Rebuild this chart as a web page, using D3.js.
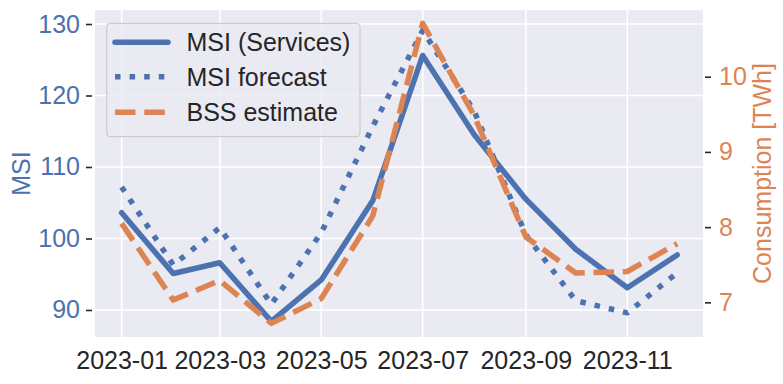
<!DOCTYPE html>
<html><head><meta charset="utf-8">
<script src="https://cdn.jsdelivr.net/npm/d3@7"></script>
<style>html,body{margin:0;padding:0;background:#fff;}svg{display:block;font-family:"Liberation Sans",Arial,sans-serif;}</style>
</head><body>
<svg id="c" width="783" height="384"></svg>
<script>
const months = ["2023-01","2023-02","2023-03","2023-04","2023-05","2023-06","2023-07","2023-08","2023-09","2023-10","2023-11","2023-12"];
const msiServices = [103.6, 95.1, 96.6, 88.4, 94.2, 105.3, 125.6, 114.5, 105.5, 98.5, 93.1, 97.7];
const msiForecast = [107.2, 96.3, 101.5, 90.8, 100.8, 115.7, 129.1, 117.8, 100.5, 91.3, 89.6, 95.2];
const bssEstimate = [8.05, 7.03, 7.29, 6.72, 7.05, 8.15, 10.71, 9.48, 7.87, 7.39, 7.41, 7.78];
const leftTicks = [90, 100, 110, 120, 130];
const rightTicks = [7, 8, 9, 10];
const seriesNames = ["MSI (Services)", "MSI forecast", "BSS estimate"];

const BLUE = "#4C72B0", ORANGE = "#DD8452", TXT = "#262626", BG = "#EAEAF2";
const FS = 25;
const FF = "Liberation Sans, Arial, sans-serif";
const svg = d3.select("#c");
const L = 95, R = 703, T = 10, B = 337;
const parse = s => { const [y,m] = s.split("-").map(Number); return new Date(Date.UTC(y, m-1, 1)); };
const dates = months.map(parse);

const x = d3.scaleUtc().domain([new Date(Date.UTC(2022,11,16)), new Date(Date.UTC(2023,11,16,12))]).range([L, R]);
const yL = d3.scaleLinear().domain([86.22, 131.96]).range([B, T]);
const yR = d3.scaleLinear().domain([6.539, 10.887]).range([B, T]);

svg.append("rect").attr("x", L).attr("y", T).attr("width", R-L).attr("height", B-T).attr("fill", BG);

const xTicks = dates.filter((d,i) => i % 2 === 0);
const g = svg.append("g");
g.selectAll(".vg").data(xTicks).join("line")
  .attr("x1", d => x(d)).attr("x2", d => x(d)).attr("y1", T).attr("y2", B)
  .attr("stroke", "#fff").attr("stroke-width", 1.6);
g.selectAll(".hg").data(leftTicks).join("line")
  .attr("x1", L).attr("x2", R).attr("y1", d => yL(d)).attr("y2", d => yL(d))
  .attr("stroke", "#fff").attr("stroke-width", 1.6);

// x axis
const xa = svg.append("g").attr("transform", `translate(0,${B})`)
  .call(d3.axisBottom(x).tickValues(xTicks).tickFormat(d3.utcFormat("%Y-%m")).tickSize(0).tickPadding(14));
xa.select(".domain").remove();
xa.attr("font-size", FS).attr("font-family", FF);
xa.selectAll("text").attr("fill", TXT);

// left axis
const ya = svg.append("g").attr("transform", `translate(${L-3},0)`)
  .call(d3.axisLeft(yL).tickValues(leftTicks).tickSize(6).tickPadding(6));
ya.select(".domain").remove();
ya.attr("font-size", FS).attr("font-family", FF);
ya.selectAll("line").attr("stroke", TXT).attr("stroke-width", 1.6);
ya.selectAll("text").attr("fill", BLUE);

// right axis
const yra = svg.append("g").attr("transform", `translate(${R+2},0)`)
  .call(d3.axisRight(yR).tickValues(rightTicks).tickFormat(d3.format("d")).tickSize(6).tickPadding(8));
yra.select(".domain").remove();
yra.attr("font-size", FS).attr("font-family", FF);
yra.selectAll("line").attr("stroke", TXT).attr("stroke-width", 1.6);
yra.selectAll("text").attr("fill", ORANGE);

svg.append("text").attr("transform", `translate(30,${(T+B)/2}) rotate(-90)`)
  .attr("text-anchor", "middle").attr("font-size", FS).attr("fill", BLUE).text("MSI");
svg.append("text").attr("transform", `translate(771,${(T+B)/2}) rotate(-90)`)
  .attr("text-anchor", "middle").attr("font-size", FS).attr("fill", ORANGE).text("Consumption [TWh]");

const lines = svg.append("g");
const lw = 5.5;
const lineL = d3.line().x((d,i) => x(dates[i])).y(d => yL(d));
const lineR = d3.line().x((d,i) => x(dates[i])).y(d => yR(d));
lines.append("path").attr("d", lineL(msiServices)).attr("fill","none").attr("stroke",BLUE)
  .attr("stroke-width",lw).attr("stroke-linecap","round").attr("stroke-linejoin","round");
lines.append("path").attr("d", lineL(msiForecast)).attr("fill","none").attr("stroke",BLUE)
  .attr("stroke-width",lw).attr("stroke-dasharray","5.5,9.1").attr("stroke-linejoin","round");
lines.append("path").attr("d", lineR(bssEstimate)).attr("fill","none").attr("stroke",ORANGE)
  .attr("stroke-width",lw).attr("stroke-dasharray","20.5,8.8").attr("stroke-linejoin","round");

// legend
const lg = svg.append("g");
lg.append("rect").attr("x",106.7).attr("y",23.3).attr("width",253.3).attr("height",113.4).attr("rx",4)
  .attr("fill","rgba(234,234,242,0.8)").attr("stroke","#cccccc").attr("stroke-width",1.2);
const styles = [
  {c: BLUE, dash: null, cap: "round"},
  {c: BLUE, dash: "5.5,9.1", cap: "butt"},
  {c: ORANGE, dash: "20.5,8.8", cap: "butt"}
];
const rowY = [42.3, 76.7, 112.3];
seriesNames.forEach((n,i) => {
  const ln = lg.append("line").attr("x1", 115).attr("x2", 168).attr("y1", rowY[i]).attr("y2", rowY[i])
    .attr("stroke", styles[i].c).attr("stroke-width", lw).attr("stroke-linecap", styles[i].cap);
  if (styles[i].dash) ln.attr("stroke-dasharray", styles[i].dash);
  lg.append("text").attr("x", 186.5).attr("y", rowY[i] + 9).attr("font-size", FS).attr("fill", TXT).text(n);
});
</script>
</body></html>
